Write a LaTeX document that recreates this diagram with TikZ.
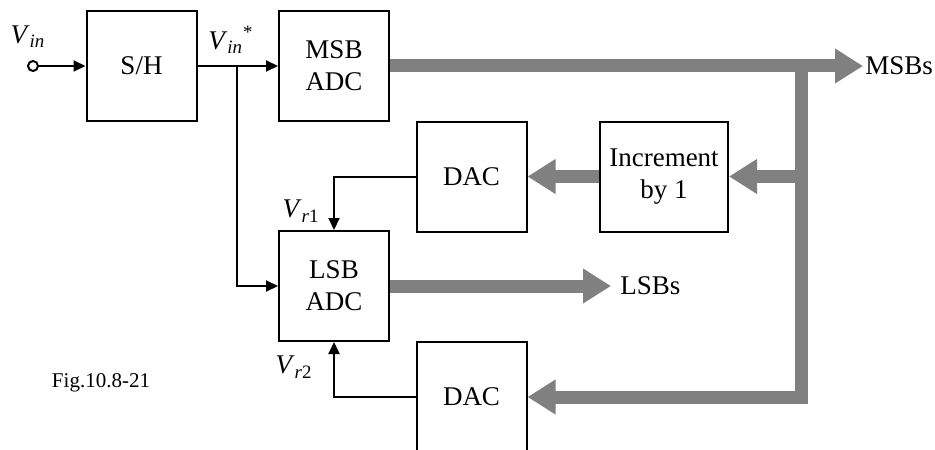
\documentclass[tikz,border=0pt]{standalone}
\usepackage{fontspec}
\setmainfont{Liberation Serif}
\usetikzlibrary{arrows.meta, positioning}
\tikzstyle{wire}  = [line width=1pt, -{Triangle[length=6pt,width=5.5pt]}]
\tikzstyle{bus}   = [line width=6.5pt, draw=gray, -{Triangle[length=14pt,width=16.5pt]}]
\tikzstyle{block} = [rectangle, draw, line width=1pt, minimum width=55pt, minimum height=55pt, align=center, font=\fontsize{13.5}{16}\selectfont]
\tikzstyle{lbl}   = [font=\fontsize{13.5}{16}\selectfont, inner sep=0pt]
\tikzstyle{outlbl}= [lbl, anchor=west]
\newcommand{\sig}[2]{\textit{V}\textsubscript{#1}#2}

\begin{document}
\begin{tikzpicture}[x=0.5pt, y=-0.5pt]
    \useasboundingbox (0,0) rectangle (935,449);

    \node (vin)  at (33,66)       [circle, draw, line width=1pt, inner sep=0pt, minimum size=5pt, fill=white] {};
    \node (sh)   at (141.5,66)    [block] {S/H};
    \node (msb)  at (334,66)      [block] {MSB\\ADC};
    \node (lsb)  at (334,286)     [block] {LSB\\ADC};
    \node (dac1) at (471.5,176.5) [block] {DAC};
    \node (inc)  at (664,176.5)   [block, minimum width=64pt] {Increment\\by 1};
    \node (dac2) at (471.5,397)   [block] {DAC};

    % signal labels
    \node (vinlbl)  at (28,37)  [lbl] {\sig{\textit{in}}{}};
    \node (vinstar) at (231,40) [lbl] {\sig{\textit{in}}{\textsuperscript{*}}};
    \node (vr1lbl)  at (301,211) [lbl] {\sig{\textit{r}1}{}};
    \node (vr2lbl)  at (294,367) [lbl] {\sig{\textit{r}2}{}};
    \node (fig)     at (101,383) [font=\fontsize{10.5}{12}\selectfont, inner sep=0pt] {Fig.10.8-21};

    \node (msbs) at (863,66)  [outlbl, inner xsep=1pt] {MSBs};
    \node (lsbs) at (611,286) [outlbl, inner xsep=4.5pt] {LSBs};

    \coordinate (split) at (237,66);
    \coordinate (tap)   at (801,66);

    % thin signal wires
    \draw [wire] (vin) -- (sh);
    \draw [wire] (sh) -- (msb);
    \draw [wire] (split) |- (lsb);
    \draw [wire] (dac1.west) -| (lsb.north);
    \draw [wire] (dac2.west) -| (lsb.south);

    % digital buses
    \draw [bus] (msb) -- (msbs.west);
    \draw [bus] (tap) |- (dac2);
    \draw [bus] (inc.east -| tap) -- (inc);
    \draw [bus] (inc) -- (dac1);
    \draw [bus] (lsb) -- (lsbs.west);
\end{tikzpicture}
\end{document}
